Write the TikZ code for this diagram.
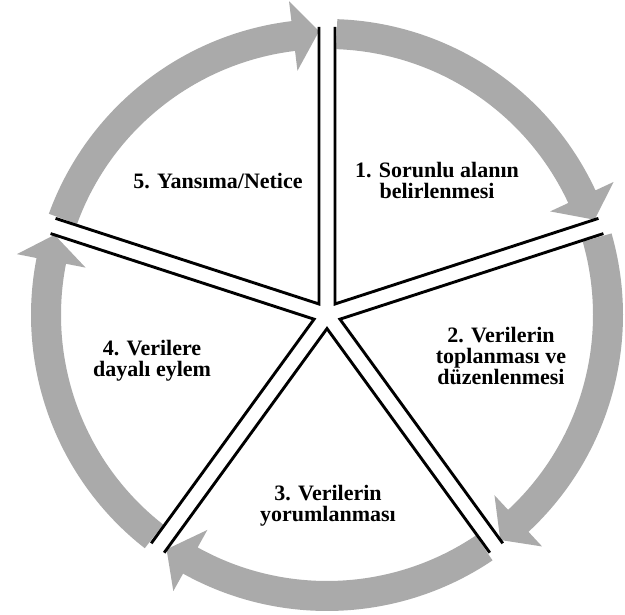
\documentclass[tikz,border=0pt]{standalone}
\usepackage{xcolor}
\usepackage{fontspec}
\setmainfont{Liberation Serif}
\usepackage{tikz}
\usetikzlibrary{calc}
\definecolor{ringgray}{RGB}{170,170,170}

\begin{document}
\begin{tikzpicture}[x=1pt,y=1pt,
  ring/.style={fill=ringgray,draw=none},
  divider/.style={draw=black,line width=2.9pt,miter limit=20},
  stage/.style={align=center,inner sep=0pt,
                font=\fontsize{22}{21}\selectfont\bfseries}
]
\useasboundingbox (0,0) rectangle (625,615);
\coordinate (c) at (327,300);

%% ── Ring: five grey arcs, clockwise, tail after one divider, head at the next ──
\begin{scope}[shift={(c)}]
\foreach \a in {90,18,-54,-126,162}{
  \fill[ring] (\a-2:296) arc[start angle=\a-2, end angle=\a-65.1, radius=296]
    -- (\a-65.1:316) -- (\a-70.4:284) -- (\a-65.1:246) -- (\a-65.1:266)
    arc[start angle=\a-65.1, end angle=\a-2, radius=266] -- cycle;
}

%% ── Dividers: one open wedge per stage, pushed out along its bisector ────────
\foreach \b in {54,-18,-90,-162,126}{
  \draw[divider] ([shift={(\b+36:277)}]\b:13.6) -- (\b:13.6) -- ++(\b-36:277);
}
\end{scope}

%% ── Stage labels ─────────────────────────────────────────────────────────────
\node[stage] (s1) at (437,435)   {1. Sorunlu alanın\\belirlenmesi};
\node[stage] (s2) at (501,258.5) {2. Verilerin\\toplanması ve\\düzenlenmesi};
\node[stage] (s3) at (328,109.5) {3. Verilerin\\yorumlanması};
\node[stage] (s4) at (152,254.5) {4. Verilere\\dayalı eylem};
\node[stage] (s5) at (218,434)   {5. Yansıma/Netice};
\end{tikzpicture}
\end{document}
